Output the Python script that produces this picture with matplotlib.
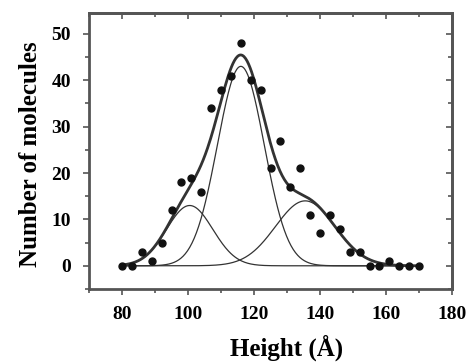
"""Histograma de alturas con ajuste de tres gaussianas."""
import matplotlib
import numpy as np

matplotlib.use("Agg")
import matplotlib.pyplot as plt  # noqa: E402
from matplotlib.ticker import MultipleLocator  # noqa: E402

# Datos del histograma (altura en Å, número de moléculas)
heights = [80, 83, 86, 89, 92, 95, 98, 101, 104, 107, 110, 113, 116, 119, 122,
           125, 128, 131, 134, 137, 140, 143, 146, 149, 152, 155, 158, 161,
           164, 167, 170]
counts = [0, 0, 3, 1, 5, 12, 18, 19, 16, 34, 38, 41, 48, 40, 38,
          21, 27, 17, 21, 11, 7, 11, 8, 3, 3, 0, 0, 1,
          0, 0, 0]

# Parámetros de las tres gaussianas ajustadas
amps = [13.0, 43.0, 14.0]
centers = [100.5, 116.0, 135.5]
sigmas = [7.0, 7.1, 9.0]
fit_range = (80, 170)

SERIF = ["Liberation Serif", "DejaVu Serif"]
LINE = "#333333"
FRAME = "#555555"

x = np.linspace(*fit_range, 400)
comps = [a * np.exp(-(x - m) ** 2 / (2 * s ** 2))
         for a, m, s in zip(amps, centers, sigmas)]
total = np.sum(comps, axis=0)

fig = plt.figure(figsize=(4.67, 3.62), dpi=100)
ax = fig.add_axes([0.1906, 0.2017, 0.7774, 0.7623])

for c in comps:
    ax.plot(x, c, color=LINE, linewidth=0.9)
ax.plot(x, total, color=LINE, linewidth=2.0)
ax.plot(heights, counts, "o", color="#111111", markersize=5)

ax.set_xlim(70, 180)
ax.set_ylim(-5, 54.5)
ax.xaxis.set_major_locator(MultipleLocator(20))
ax.xaxis.set_minor_locator(MultipleLocator(10))
ax.yaxis.set_major_locator(MultipleLocator(10))
ax.yaxis.set_minor_locator(MultipleLocator(5))
ax.set_xticks(range(80, 181, 20))

ax.tick_params(which="both", direction="out", color=FRAME, width=1.2,
               top=False, right=False)
ax.tick_params(which="major", length=4)
ax.tick_params(which="minor", length=3)
for lbl in ax.get_xticklabels() + ax.get_yticklabels():
    lbl.set_family(SERIF)
    lbl.set_fontweight("bold")
    lbl.set_fontsize(14)
ax.tick_params(axis="x", pad=8)
ax.tick_params(axis="y", pad=9)

# Ticks hacia dentro en los lados superior y derecho
top = ax.secondary_xaxis("top")
top.xaxis.set_major_locator(MultipleLocator(20))
top.xaxis.set_minor_locator(MultipleLocator(10))
top.tick_params(which="both", direction="in", labeltop=False,
                color=FRAME, width=1.2)
top.tick_params(which="major", length=4)
top.tick_params(which="minor", length=3)
right = ax.secondary_yaxis("right")
right.yaxis.set_major_locator(MultipleLocator(10))
right.yaxis.set_minor_locator(MultipleLocator(5))
right.tick_params(which="both", direction="in", labelright=False,
                  color=FRAME, width=1.2)
right.tick_params(which="major", length=4)
right.tick_params(which="minor", length=3)

for sp in list(ax.spines.values()) + [top.spines["top"], right.spines["right"]]:
    sp.set_color(FRAME)
    sp.set_linewidth(2.0)

ax.set_xlabel("Height (Å)", family=SERIF, fontweight="bold", fontsize=18)
ax.xaxis.set_label_coords(0.545, -0.165)
ax.set_ylabel("Number of molecules", family=SERIF, fontweight="bold",
              fontsize=18)
ax.yaxis.set_label_coords(-0.13, 0.49)

fig.savefig("out.png", dpi=100)
